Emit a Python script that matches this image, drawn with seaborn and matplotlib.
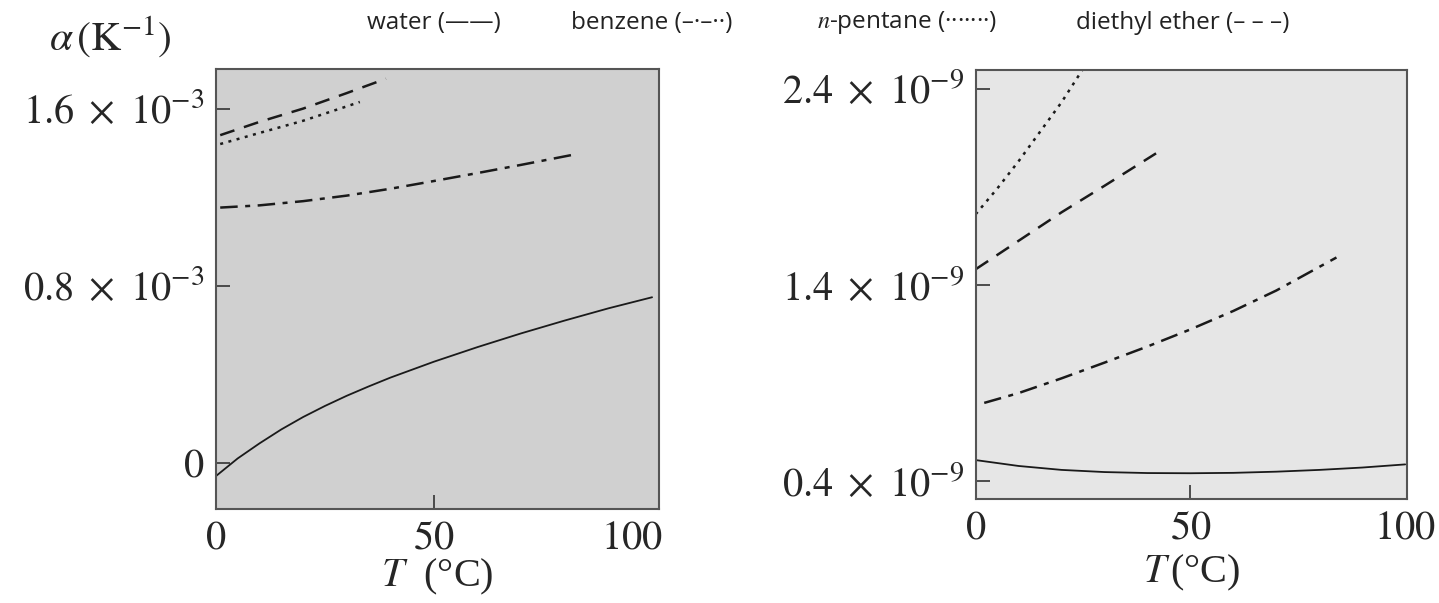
import numpy as np
import pandas as pd
import matplotlib
matplotlib.use("Agg")
import matplotlib.pyplot as plt
import matplotlib.transforms as mtransforms
import seaborn as sns

# ── data: thermal expansion alpha (1e-3 / K) ──────────────────
t_water = [0, 5, 10, 15, 20, 25, 30, 35, 40, 50, 60, 70, 80, 90, 100]
a_water = [-0.06, 0.02, 0.088, 0.151, 0.207, 0.257, 0.303, 0.345, 0.385, 0.457,
           0.523, 0.585, 0.643, 0.698, 0.748]
t_benz = [1, 10, 20, 30, 40, 50, 60, 70, 82]
a_benz = [1.153, 1.163, 1.182, 1.207, 1.238, 1.273, 1.309, 1.346, 1.392]
t_pent = [1, 10, 20, 30, 33]
a_pent = [1.44, 1.49, 1.545, 1.61, 1.63]
t_ether = [1, 10, 20, 30, 39]
a_ether = [1.48, 1.54, 1.60, 1.67, 1.735]

# ── data: compressibility kappa (1e-9 / Pa) ───────────────────
tk_water = [0, 10, 20, 30, 40, 50, 60, 70, 80, 90, 100]
k_water = [0.509, 0.479, 0.459, 0.448, 0.443, 0.442, 0.444, 0.45, 0.459, 0.471, 0.487]
tk_benz = [2, 10, 20, 30, 40, 50, 60, 70, 84]
k_benz = [0.80, 0.85, 0.925, 1.005, 1.087, 1.174, 1.268, 1.372, 1.54]
tk_pent = [0, 5, 10, 15, 20, 25]
k_pent = [1.76, 1.89, 2.03, 2.18, 2.33, 2.50]
tk_ether = [0, 10, 20, 30, 42]
k_ether = [1.48, 1.625, 1.77, 1.905, 2.07]

legend_items = ["water (——)", "benzene (–·–··)", "$n$-pentane (·······)", "diethyl ether (– – –)"]

sns.set_style("ticks")
plt.rcParams["mathtext.fontset"] = "stix"
plt.rcParams["font.family"] = ["Liberation Serif", "DejaVu Serif"]

styles = {
    "water": dict(linestyle="-", linewidth=1.3),
    "benzene": dict(dashes=(7, 3, 2, 3), linewidth=1.8),
    "pentane": dict(dashes=(1.2, 2.2), linewidth=1.8),
    "ether": dict(dashes=(6, 4), linewidth=1.8),
}

fig = plt.figure(figsize=(14.39, 6.03), dpi=100)
ax1 = fig.add_axes([0.150, 0.156, 0.308, 0.730])
ax2 = fig.add_axes([0.678, 0.1725, 0.300, 0.712])

left_sets = [("water", t_water, a_water), ("benzene", t_benz, a_benz),
             ("pentane", t_pent, a_pent), ("ether", t_ether, a_ether)]
right_sets = [("water", tk_water, k_water), ("benzene", tk_benz, k_benz),
              ("pentane", tk_pent, k_pent), ("ether", tk_ether, k_ether)]

for ax, sets in [(ax1, left_sets), (ax2, right_sets)]:
    for name, t, v in sets:
        df = pd.DataFrame({"T": t, "v": v})
        sns.lineplot(data=df, x="T", y="v", ax=ax, color="#1a1a1a", **styles[name])

ax1.set_facecolor("#d0d0d0")
ax2.set_facecolor("#e6e6e6")

ax1.set_xlim(0, 101.6)
ax1.set_ylim(-0.208, 1.78)
ax1.set_yticks([0, 0.8, 1.6])
ax1.set_yticklabels(["$0$", r"$0.8\ \times\ 10^{-3}$", r"$1.6\ \times\ 10^{-3}$"])

ax2.set_xlim(0, 100.5)
ax2.set_ylim(0.311, 2.496)
ax2.set_yticks([0.4, 1.4, 2.4])
ax2.set_yticklabels([r"$0.4\ \times\ 10^{-9}$", r"$1.4\ \times\ 10^{-9}$", r"$2.4\ \times\ 10^{-9}$"])

for ax in (ax1, ax2):
    ax.set_xticks([0, 50, 100])
    ax.set_xticklabels(["$0$", "$50$", "$100$"])
    ax.tick_params(direction="in", length=10, width=1.2, labelsize=29, color="#333333", pad=8)
    ax.set_xlabel("")
    ax.set_ylabel("")
    xt = ax.xaxis.get_major_ticks()
    xt[0].tick1line.set_visible(False)
    xt[2].tick1line.set_visible(False)
    for s in ax.spines.values():
        s.set_visible(True)
        s.set_color("#555555")
        s.set_linewidth(1.5)

# the "100" label of the left panel sits a bit left of its tick
lab100 = ax1.get_xticklabels()[2]
lab100.set_transform(lab100.get_transform() + mtransforms.ScaledTranslation(-0.2, 0, fig.dpi_scale_trans))

ax1.set_xlabel(r"$T$  (°C)", fontsize=29, labelpad=0)
ax2.set_xlabel(r"$T\,$(°C)", fontsize=29, labelpad=4)
fig.text(0.034, 0.9, r"$\alpha\,(\mathrm{K}^{-1})$", fontsize=30, ha="left", va="bottom")

xs = [0.255, 0.397, 0.568, 0.748]
for x, lab in zip(xs, legend_items):
    fig.text(x, 0.962, lab, fontsize=17.5, ha="left", va="center", color="#222222",
             family=["Open Sans", "DejaVu Sans"])

plt.savefig("out.png", dpi=100)
